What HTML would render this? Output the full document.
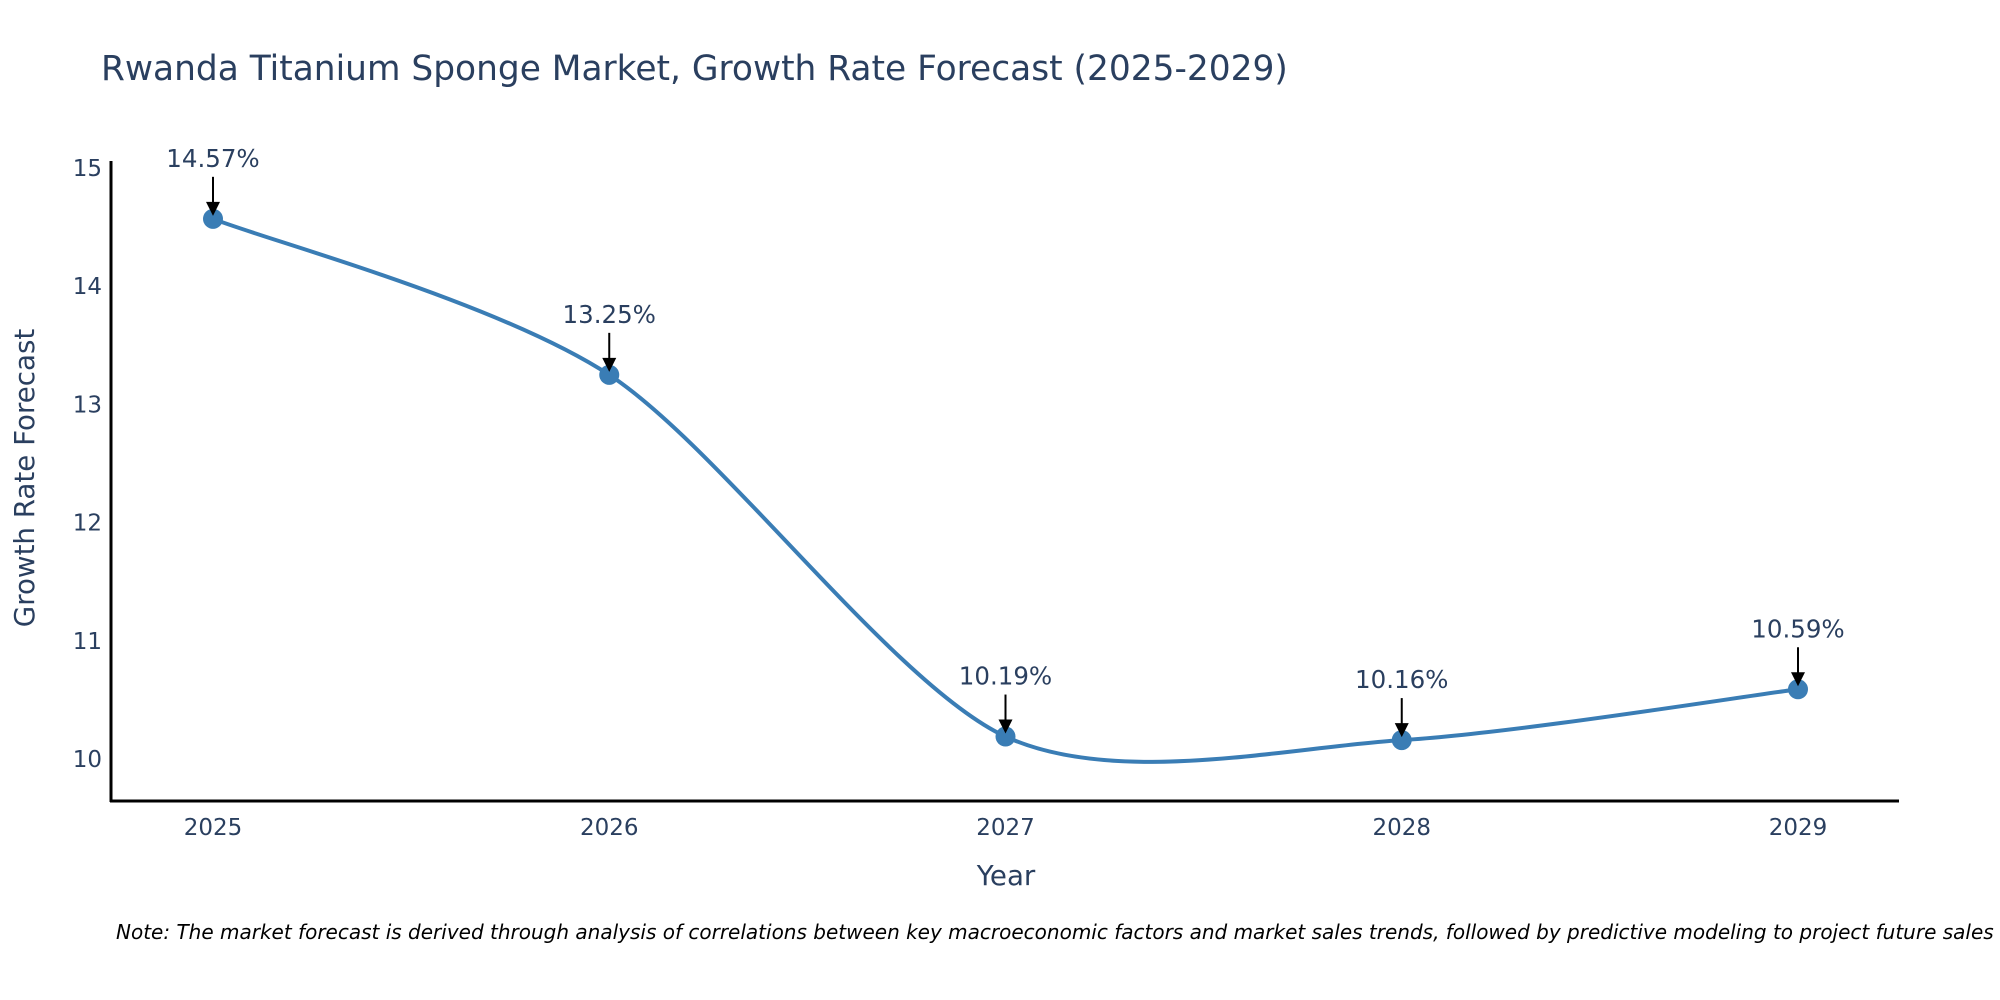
<!DOCTYPE html>
<html><head><meta charset="utf-8"><style>
html,body{margin:0;padding:0;background:#fff;}
svg{display:block;font-family:"DejaVu Sans","Liberation Sans",sans-serif;}
</style></head><body>
<svg id="chart" width="2000" height="1000" viewBox="0 0 2000 1000">
<text x="101" y="80" font-size="34.4" fill="#2a3f5f">Rwanda Titanium Sponge Market, Growth Rate Forecast (2025-2029)</text>
<g id="yticks"></g>
<g id="xticks"></g>
<line x1="111" y1="161" x2="111" y2="802" stroke="#000" stroke-width="3"/>
<line x1="110" y1="801" x2="1899" y2="801" stroke="#000" stroke-width="3"/>
<text transform="translate(34,478) rotate(-90)" text-anchor="middle" font-size="27.7" fill="#2a3f5f">Growth Rate Forecast</text>
<text x="1006" y="885" text-anchor="middle" font-size="27.7" fill="#2a3f5f">Year</text>
<path id="line" fill="none" stroke="#3a7db5" stroke-width="4"/>
<g id="points"></g>
<g id="ann"></g>
<text x="116" y="939" font-size="20" font-style="italic" fill="#000">Note: The market forecast is derived through analysis of correlations between key macroeconomic factors and market sales trends, followed by predictive modeling to project future sales</text>
</svg>
<script>
const years = ["2025","2026","2027","2028","2029"];
const values = [14.57, 13.25, 10.19, 10.16, 10.59];
const yTicks = [10, 11, 12, 13, 14, 15];
const NS = "http://www.w3.org/2000/svg";
const xs = i => 213 + i * 396.25;
const ys = v => 759 - (v - 10) * 118.2;
const yt = document.getElementById('yticks');
yTicks.forEach(t => {
  const e = document.createElementNS(NS, 'text');
  
  
  e.setAttribute('x', 102); e.setAttribute('y', ys(t) + 8);
  e.setAttribute('text-anchor', 'end'); e.setAttribute('font-size', '23'); e.setAttribute('fill', '#2a3f5f');
  e.textContent = t; yt.appendChild(e);
});
const xt = document.getElementById('xticks');
years.forEach((y, i) => {
  const e = document.createElementNS(NS, 'text');
  
  
  e.setAttribute('x', xs(i)); e.setAttribute('y', 835);
  e.setAttribute('text-anchor', 'middle'); e.setAttribute('font-size', '23'); e.setAttribute('fill', '#2a3f5f');
  e.textContent = y; xt.appendChild(e);
});
const P = values.map((v, i) => [xs(i), ys(v)]);
let d = `M${P[0][0]},${P[0][1]}`;
const k = 0.14;
for (let i = 0; i < P.length - 1; i++) {
  const p0 = P[Math.max(i - 1, 0)], p1 = P[i], p2 = P[i + 1], p3 = P[Math.min(i + 2, P.length - 1)];
  const c1 = [p1[0] + (p2[0] - p0[0]) * k, p1[1] + (p2[1] - p0[1]) * k];
  const c2 = [p2[0] - (p3[0] - p1[0]) * k, p2[1] - (p3[1] - p1[1]) * k];
  d += ` C${c1[0]},${c1[1]} ${c2[0]},${c2[1]} ${p2[0]},${p2[1]}`;
}
document.getElementById('line').setAttribute('d', d);
const pts = document.getElementById('points'), ann = document.getElementById('ann');
P.forEach((p, i) => {
  const c = document.createElementNS(NS, 'circle');
  
  
  c.setAttribute('cx', p[0]); c.setAttribute('cy', p[1]); c.setAttribute('r', 10);
  c.setAttribute('fill', '#3a7db5'); pts.appendChild(c);
  const l = document.createElementNS(NS, 'line');
  
  
  l.setAttribute('x1', p[0]); l.setAttribute('y1', p[1] - 42);
  l.setAttribute('x2', p[0]); l.setAttribute('y2', p[1] - 14);
  l.setAttribute('stroke', '#000'); l.setAttribute('stroke-width', 2); ann.appendChild(l);
  const h = document.createElementNS(NS, 'polygon');
  
  
  h.setAttribute('points', `${p[0]-7},${p[1]-17} ${p[0]+7},${p[1]-17} ${p[0]},${p[1]-3}`);
  h.setAttribute('fill', '#000'); ann.appendChild(h);
  const t = document.createElementNS(NS, 'text');
  
  
  t.setAttribute('x', p[0]); t.setAttribute('y', p[1] - 52);
  t.setAttribute('text-anchor', 'middle'); t.setAttribute('font-size', '24.5'); t.setAttribute('fill', '#2a3f5f');
  t.textContent = values[i].toFixed(2) + '%'; ann.appendChild(t);
});
</script>
</body></html>
